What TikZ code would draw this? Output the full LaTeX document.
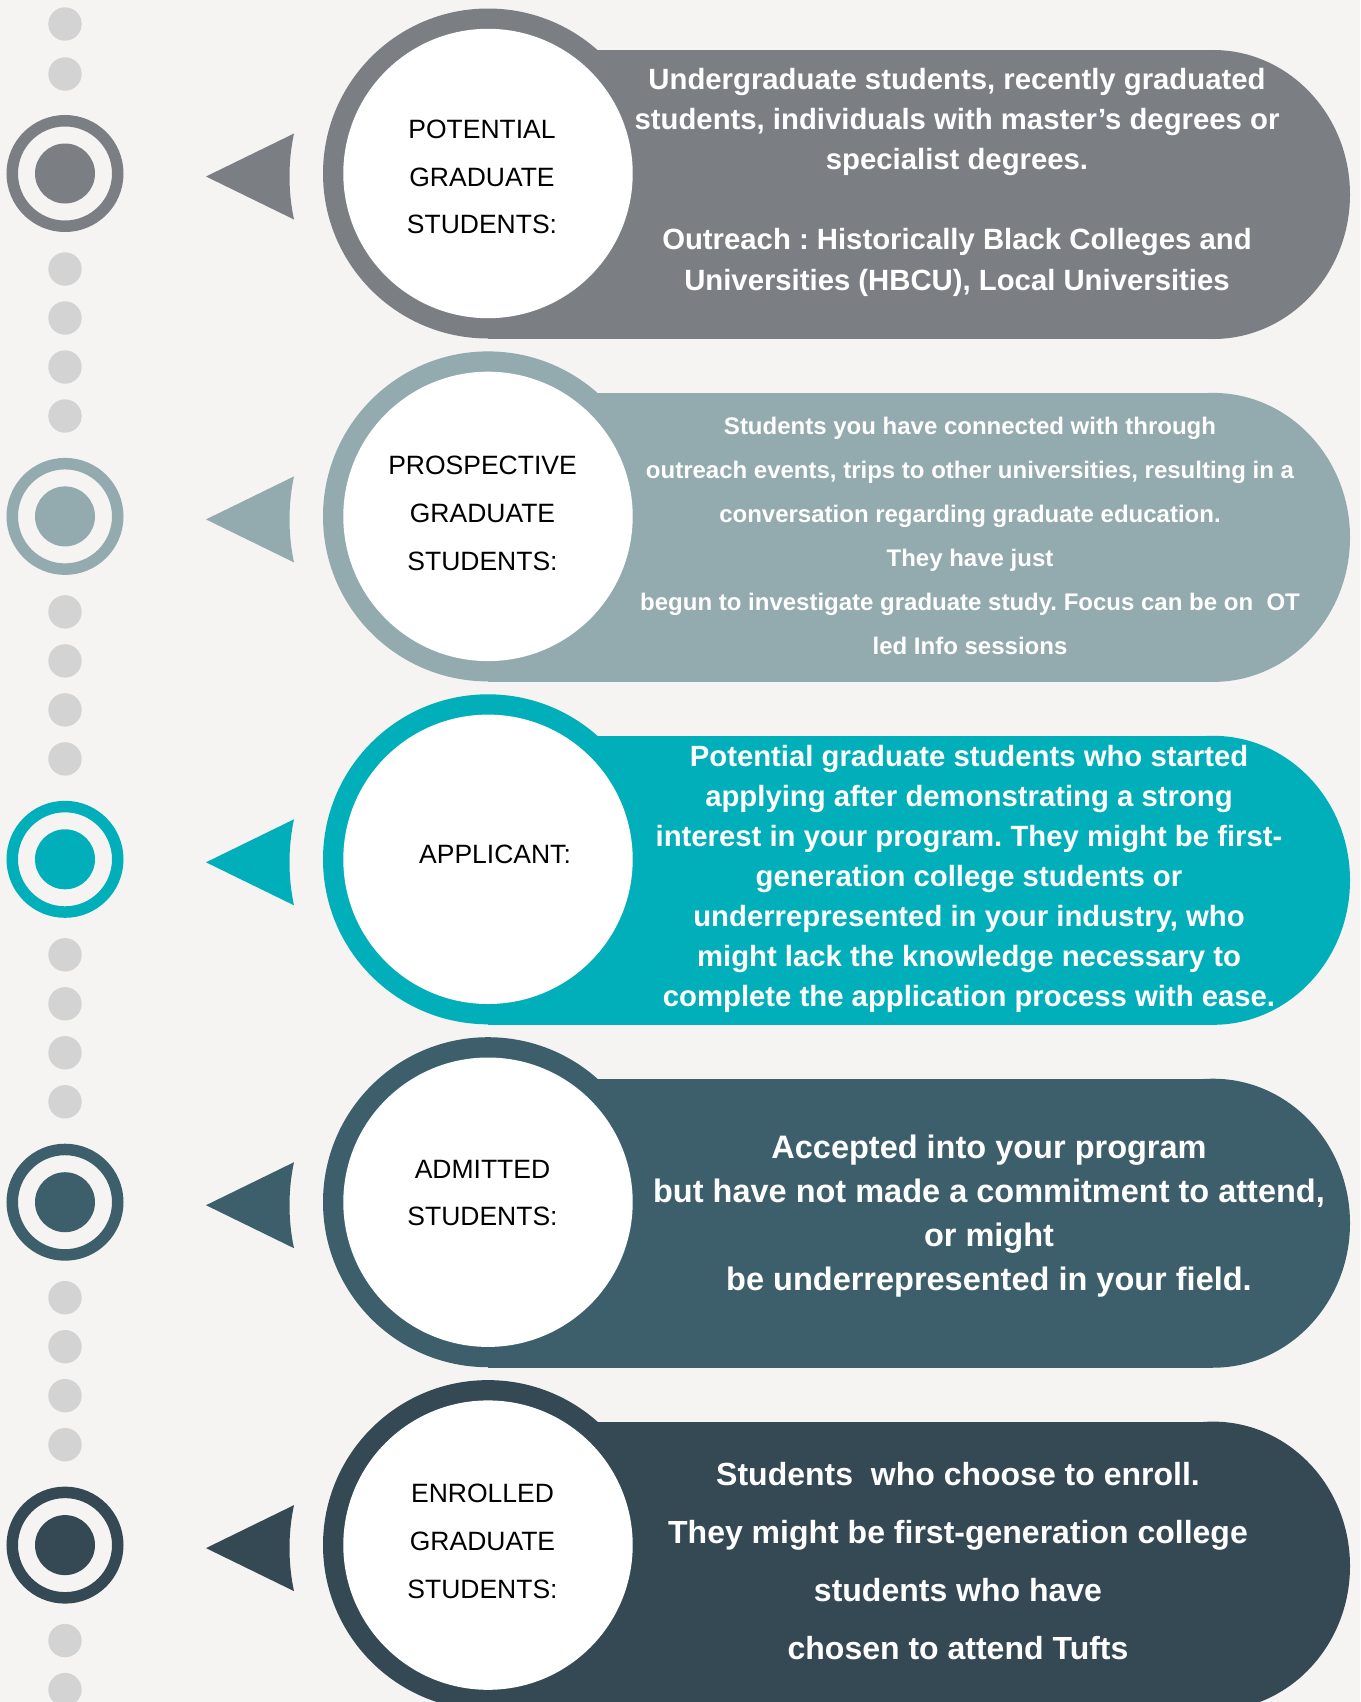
\documentclass[tikz,border=0pt]{standalone}
\usepackage{fontspec}
\setmainfont{Liberation Sans}
\frenchspacing
\definecolor{bgcol}{HTML}{F5F4F2}
\definecolor{dotcol}{HTML}{D3D3D3}
\definecolor{stageA}{HTML}{7B7F83}
\definecolor{stageB}{HTML}{93AAAE}
\definecolor{stageC}{HTML}{00AFBA}
\definecolor{stageD}{HTML}{3D5F6B}
\definecolor{stageE}{HTML}{354955}

% one stage: band with rounded right end, ringed white disc, pointer, target marker
\newcommand\stagerow[2]{%
  \fill[#2] (488,#1-123.5) rectangle (1213,#1+165.5);
  \fill[#2] (1213,#1+21) ellipse[x radius=137pt, y radius=144.5pt];
  \fill[#2] (488,#1) circle[radius=165pt];
  \fill[white] (488,#1) circle[radius=144.7pt];
  \fill[#2] (206,#1+3) -- (294,#1-40) .. controls (288,#1-12) and (288,#1+18) .. (294,#1+46) -- cycle;
  \draw[#2, line width=11.5pt] (65,#1) circle[radius=52.75pt];
  \fill[#2] (65,#1) circle[radius=30pt];
}

\begin{document}
\begin{tikzpicture}[x=1pt,y=-1pt,
  desc/.style={text=white, align=center, inner sep=0pt},
  stagelabel/.style={text=black, align=center, inner sep=0pt,
    font=\fontsize{26.5pt}{47.8pt}\selectfont}]

\useasboundingbox (0,0) rectangle (1360,1702);
\clip (0,0) rectangle (1360,1702);
\fill[bgcol] (0,0) rectangle (1360,1702);

% dotted timeline
\foreach \c in {173.5,516.4,859.3,1202.2}
  \foreach \k in {0,...,3}
    \fill[dotcol] (65,\c+95.5+49*\k) circle[radius=16.7pt];
\foreach \y in {24,74,1640.6,1689.6}
  \fill[dotcol] (65,\y) circle[radius=16.7pt];

\stagerow{173.5}{stageA}
\stagerow{516.4}{stageB}
\stagerow{859.3}{stageC}
\stagerow{1202.2}{stageD}
\stagerow{1545.1}{stageE}

% stage names
\node[stagelabel] (l1) at (482,177) {POTENTIAL\\GRADUATE\\STUDENTS:};
\node[stagelabel] (l2) at (482.5,513.4) {PROSPECTIVE\\GRADUATE\\STUDENTS:};
\node[stagelabel] (l3) at (495,854) {APPLICANT:};
\node[stagelabel] (l4) at (482.5,1193) {ADMITTED\\STUDENTS:};
\node[stagelabel] (l5) at (482.5,1541.3) {ENROLLED\\GRADUATE\\STUDENTS:};

% descriptions
\node[desc, font=\fontsize{29.3pt}{40.2pt}\selectfont\bfseries] (d1) at (957,182)
  {Undergraduate students, recently graduated\\
   students, individuals with master’s degrees or\\
   specialist degrees.\\[40.2pt]
   Outreach : Historically Black Colleges and\\
   Universities (HBCU), Local Universities};

\node[desc, font=\fontsize{24pt}{44.06pt}\selectfont\bfseries] (d2) at (970,535.7)
  {Students you have connected with through\\
   outreach events, trips to other universities, resulting in a\\
   conversation regarding graduate education.\\
   They have just\\
   begun to investigate graduate study. Focus can be on\ \ OT\\
   led Info sessions};

\node[desc, font=\fontsize{29.3pt}{40pt}\selectfont\bfseries] (d3) at (969,878.5)
  {Potential graduate students who started\\
   applying after demonstrating a strong\\
   interest in your program. They might be first-\\
   generation college students or\\
   underrepresented in your industry, who\\
   might lack the knowledge necessary to\\
   complete the application process with ease.};

\node[desc, font=\fontsize{32.5pt}{43.8pt}\selectfont\bfseries] (d4) at (989,1216)
  {Accepted into your program\\
   but have not made a commitment to attend,\\
   or might\\
   be underrepresented in your field.};

\node[desc, font=\fontsize{32pt}{58.2pt}\selectfont\bfseries] (d5) at (958,1561)
  {Students\ \ who choose to enroll.\\
   They might be first-generation college\\
   students who have\\
   chosen to attend Tufts};

\end{tikzpicture}
\end{document}
